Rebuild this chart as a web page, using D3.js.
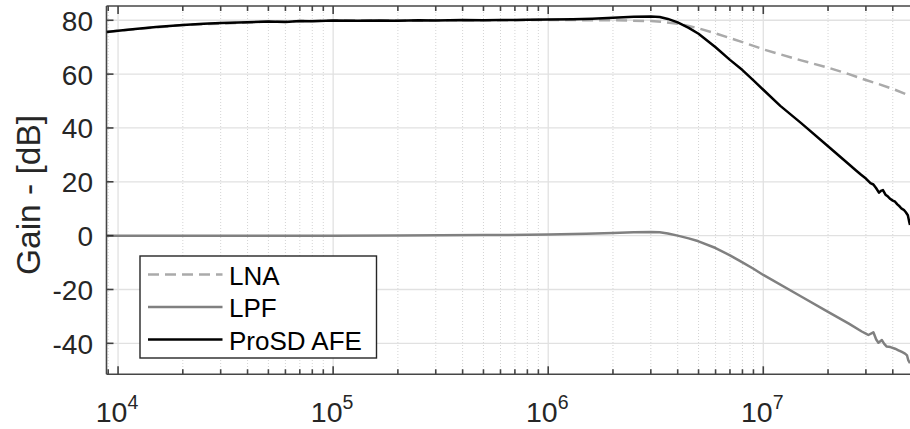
<!DOCTYPE html>
<html><head><meta charset="utf-8">
<script src="https://cdn.jsdelivr.net/npm/d3@7"></script>
<style>
html,body{margin:0;padding:0;background:#fff;}
svg{display:block;font-family:"Liberation Sans",Arial,sans-serif;}
</style></head>
<body>
<svg id="chart" width="910" height="429"></svg>
<script>
// ---- data ----
const seriesNames = ["LNA", "LPF", "ProSD AFE"];
const xDomain = [8836, 4.81e7];
const yDomain = [-51.5, 85.3];
const xTickExponents = [4, 5, 6, 7];
const yTicks = [-40, -20, 0, 20, 40, 60, 80];
const yLabel = "Gain - [dB]";

const lnaFreq = [8836,1e4,2e4,5e4,1e5,5e5,1e6,2e6,3e6,3.5e6,4e6,4.5e6,5e6,6e6,7e6,8e6,9e6,1e7,1.5e7,2e7,2.5e7,3e7,3.5e7,4e7,4.81e7];
const lnaGain = [75.6,76.1,78.2,79.5,79.9,80.0,80.1,80.0,79.7,79.3,78.7,77.9,77.0,75.1,73.4,71.9,70.5,69.2,65.1,62.4,60.0,57.8,56.1,54.5,52.0];

const lpfFreq = [8836,2e4,5e4,1e5,2e5,5e5,1e6,1.5e6,2e6,2.5e6,3e6,3.3e6,3.6e6,4e6,4.5e6,5e6,6e6,7e6,8e6,9e6,1e7,1.5e7,2e7,2.5e7,2.87e7,3.0e7,3.08e7,3.25e7,3.35e7,3.43e7,3.56e7,3.65e7,3.75e7,3.9e7,4.1e7,4.25e7,4.41e7,4.56e7,4.66e7,4.72e7,4.81e7];
const lpfGain = [0,0,0,0,0.1,0.2,0.4,0.7,1.0,1.3,1.4,1.3,0.8,0.0,-1.0,-2.1,-4.6,-7.3,-9.9,-12.3,-14.6,-22.6,-28.3,-32.7,-35.6,-36.4,-36.9,-35.9,-38.6,-39.8,-38.8,-40.2,-41.2,-41.4,-42.0,-42.6,-43.2,-43.8,-44.5,-46.2,-47.4];

const afeFreq = [8836,1e4,1.2e4,1.5e4,2e4,2.5e4,3e4,4e4,5e4,6e4,7e4,8e4,1e5,1.3e5,1.6e5,2e5,2.5e5,3e5,4e5,5e5,6e5,7e5,8e5,1e6,1.3e6,1.6e6,2e6,2.5e6,3e6,3.3e6,3.6e6,4e6,4.5e6,5e6,6e6,7e6,8e6,9e6,1e7,1.2e7,1.5e7,2e7,2.5e7,2.7e7,2.85e7,3e7,3.15e7,3.25e7,3.35e7,3.45e7,3.52e7,3.6e7,3.7e7,3.8e7,3.9e7,4.0e7,4.1e7,4.2e7,4.3e7,4.4e7,4.5e7,4.6e7,4.7e7,4.76e7,4.81e7];
const afeGain = [75.6,76.1,76.8,77.5,78.2,78.7,79.0,79.3,79.5,79.4,79.7,79.6,79.9,79.8,79.9,79.8,80.0,79.9,80.1,80.0,80.1,80.1,80.2,80.3,80.4,80.6,80.9,81.3,81.4,81.2,80.5,79.2,77.2,75.0,70.0,65.3,61.5,57.7,54.2,48.2,41.8,33.2,26.5,24.2,22.6,21.2,19.5,19.0,17.6,16.0,16.6,16.9,15.2,14.5,13.6,13.0,12.6,11.6,10.9,10.0,9.6,8.7,7.6,5.5,4.0];

// ---- layout ----
const L = 106.5, R = 912, T = 6, B = 374.3;
const svg = d3.select("#chart");
const x = d3.scaleLog().domain(xDomain).range([L, 910]);
const y = d3.scaleLinear().domain(yDomain).range([B, T]);
const axisColor = "#262626";

svg.append("defs").append("clipPath").attr("id","clip")
  .append("rect").attr("x",L).attr("y",T).attr("width",R-L).attr("height",B-T);

const grid = svg.append("g");
const allXTicks = x.ticks();
const isMajor = v => Math.abs(Math.log10(v) - Math.round(Math.log10(v))) < 1e-9;
grid.selectAll("line.xmin").data(allXTicks.filter(v => !isMajor(v))).enter().append("line")
  .attr("x1", d => x(d)).attr("x2", d => x(d)).attr("y1", T).attr("y2", B)
  .attr("stroke", "#d4d4d4").attr("stroke-width", 1).attr("stroke-dasharray", "1,2");
grid.selectAll("line.xmaj").data(allXTicks.filter(isMajor)).enter().append("line")
  .attr("x1", d => x(d)).attr("x2", d => x(d)).attr("y1", T).attr("y2", B)
  .attr("stroke", "#e1e1e1").attr("stroke-width", 1.3);
grid.selectAll("line.y").data(yTicks).enter().append("line")
  .attr("x1", L).attr("x2", R).attr("y1", d => y(d)).attr("y2", d => y(d))
  .attr("stroke", "#e1e1e1").attr("stroke-width", 1.3);

const line = d3.line().x(d => x(d[0])).y(d => y(d[1]));
const plot = svg.append("g").attr("clip-path","url(#clip)");
const lnaData = d3.zip(lnaFreq, lnaGain);
const lpfData = d3.zip(lpfFreq, lpfGain);
const afeData = d3.zip(afeFreq, afeGain);
const styles = [
  {color:"#aaaaaa", dash:"11,6", w:2.5},
  {color:"#808080", dash:null, w:2.5},
  {color:"#000000", dash:null, w:2.5}
];
[lnaData, lpfData, afeData].forEach((data, i) => {
  plot.append("path").datum(data).attr("d", line)
    .attr("fill","none").attr("stroke", styles[i].color)
    .attr("stroke-width", styles[i].w)
    .attr("stroke-dasharray", styles[i].dash)
    .attr("stroke-linejoin","round");
});

const ax = svg.append("g").attr("stroke", axisColor).attr("stroke-width", 1.6).attr("opacity",0.85);
ax.append("line").attr("x1", L).attr("x2", R).attr("y1", B).attr("y2", B);
ax.append("line").attr("x1", L).attr("x2", R).attr("y1", T).attr("y2", T);
ax.append("line").attr("x1", L).attr("x2", L).attr("y1", T).attr("y2", B);

allXTicks.forEach(v => {
  const len = isMajor(v) ? 8 : 5;
  ax.append("line").attr("x1", x(v)).attr("x2", x(v)).attr("y1", B).attr("y2", B - len);
  ax.append("line").attr("x1", x(v)).attr("x2", x(v)).attr("y1", T).attr("y2", T + len);
});
yTicks.forEach(v => {
  ax.append("line").attr("x1", L).attr("x2", L + 7).attr("y1", y(v)).attr("y2", y(v));
});

svg.append("g").selectAll("text").data(yTicks).enter().append("text")
  .attr("x", 93).attr("y", d => y(d) + 10.5)
  .attr("text-anchor","end").attr("font-size", 28).attr("fill", axisColor)
  .text(d => d);

const xl = svg.append("g");
xTickExponents.forEach(e => {
  const t = xl.append("text").attr("x", x(Math.pow(10, e)) - 1).attr("y", 421.5)
    .attr("text-anchor","middle").attr("font-size", 28.5).attr("fill", axisColor);
  t.append("tspan").text("10");
  t.append("tspan").attr("font-size", 19.5).attr("dy", -12.5).text(e);
});

svg.append("text")
  .attr("transform", "translate(39.5,195) rotate(-90)")
  .attr("text-anchor","middle").attr("font-size", 33.5).attr("fill", axisColor)
  .text(yLabel);

const lg = svg.append("g");
lg.append("rect").attr("x",140).attr("y",256).attr("width",236.5).attr("height",102)
  .attr("fill","#fff").attr("stroke", axisColor).attr("stroke-width",1.4);
const rowsY = [274.5, 307, 339.5];
seriesNames.forEach((name, i) => {
  lg.append("line").attr("x1",148).attr("x2",222.5).attr("y1",rowsY[i]).attr("y2",rowsY[i])
    .attr("stroke", styles[i].color).attr("stroke-width", styles[i].w)
    .attr("stroke-dasharray", styles[i].dash);
  lg.append("text").attr("x",229).attr("y",rowsY[i] + 10).attr("font-size",26)
    .attr("fill", "#000").text(name);
});
</script>
</body></html>
